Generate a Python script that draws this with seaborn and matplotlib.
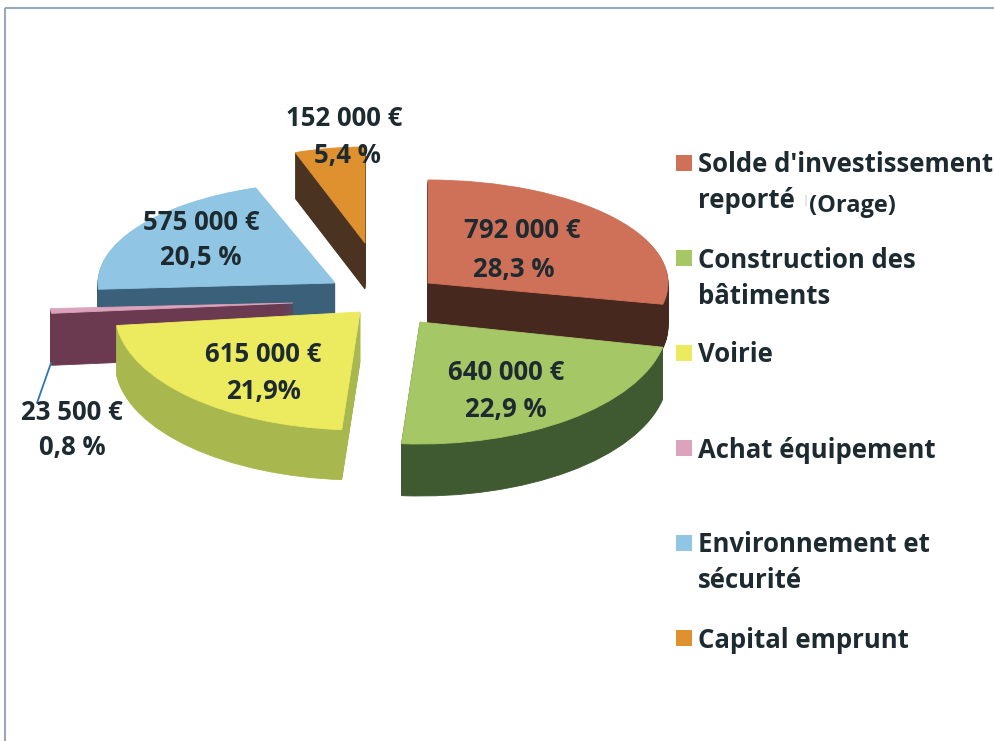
#!/usr/bin/python

import seaborn as sns
import matplotlib.pyplot as plt
from matplotlib.patches import Rectangle
from matplotlib.transforms import Affine2D

# data
names = ["Solde d'investissement", "Construction des", "Voirie",
         "Achat équipement", "Environnement et", "Capital emprunt"]
values = [792000, 640000, 615000, 23500, 575000, 152000]
amount_labels = ["792 000 €", "640 000 €", "615 000 €", "23 500 €", "575 000 €", "152 000 €"]
percent_labels = ["28,3 %", "22,9 %", "21,9%", "0,8 %", "20,5 %", "5,4 %"]
top_colors = ["#CF7058", "#A6C765", "#ECEB60", "#DBA3BC", "#90C6E4", "#E0912F"]
side_colors = ["#47281F", "#3F5A30", "#A9B84E", "#6B3A50", "#3B6079", "#4A3320"]

# each slice sits by itself in the exploded view: apex x, apex y, rx, ry, depth (pixels)
geometry = [(428, 283, 240, 103, 44),
            (420, 322, 248, 122, 52),
            (360, 312, 245, 118, 50),
            (293, 303, 243, 90, 52),
            (335, 283, 237, 101, 45),
            (365, 243, 208, 96, 46)]
draw_order = [5, 4, 3, 2, 0, 1]

text_pos = [(522, 229, 514, 267), (506, 370, 506, 408), (263, 352, 263, 389),
            (72, 411, 72, 446), (201, 221, 201, 256), (344, 116, 347, 153)]

sns.set_theme(style="white")
plt.rcParams['font.family'] = ['Open Sans', 'DejaVu Sans']
text_color = "#1D2A30"
label_size = 18.5

fig = plt.figure(figsize=(9.94, 7.41), dpi=100)
ax = fig.add_axes([0, 0, 1, 1])


def slice_wedge(i, zorder, color, shift):
    cx, cy, rx, ry, depth = geometry[i]
    wedges, _ = ax.pie(values, startangle=90, counterclock=False, radius=1)
    for j, w in enumerate(wedges):
        if j != i:
            w.remove()
    w = wedges[i]
    w.set_transform(Affine2D().scale(rx, -ry).translate(cx, cy + shift) + ax.transData)
    w.set_facecolor(color)
    w.set_edgecolor(color)
    w.set_linewidth(0.6)
    w.set_zorder(zorder)


for n, i in enumerate(draw_order):
    depth = geometry[i][4]
    for d in range(depth, 0, -1):
        slice_wedge(i, n + 1 + (depth - d) / 1000, side_colors[i], d)
    slice_wedge(i, n + 1.9, top_colors[i], 0)

ax.set_aspect('auto')

# leader line of the small slice
ax.plot([51, 37], [363, 403], color="#2E75B6", lw=1.3, zorder=9)

for i, (x1, y1, x2, y2) in enumerate(text_pos):
    ax.text(x1, y1 + 2, amount_labels[i], ha='center', va='center', fontsize=label_size,
            fontweight='bold', color=text_color, zorder=10)
    ax.text(x2, y2 + 2, percent_labels[i], ha='center', va='center', fontsize=label_size,
            fontweight='bold', color=text_color, zorder=10)

# legend column, one entry every 95 px
legend_x = [684] * len(names)
legend_y = [163 + 95 * i for i in range(len(names))]
sns.scatterplot(x=legend_x, y=legend_y, hue=names, palette=top_colors, marker='s', s=125,
                linewidth=0, legend=False, ax=ax, zorder=10)
for i, name in enumerate(names):
    ax.text(698, legend_y[i] + 2, name, va='center', fontsize=label_size, fontweight='bold', color=text_color)
ax.text(698, 201, "reporté", va='center', fontsize=label_size, fontweight='bold', color=text_color)
ax.text(802, 201, "|", va='center', fontsize=8, color="#BBBBBB")
ax.text(809, 206, "(Orage)", va='center', fontsize=17, fontweight='bold', color=text_color)
ax.text(698, 296, "bâtiments", va='center', fontsize=label_size, fontweight='bold', color=text_color)
ax.text(698, 580, "sécurité", va='center', fontsize=label_size, fontweight='bold', color=text_color)

# frame of the scanned chart
ax.add_patch(Rectangle((5, 8), 1100, 900, fill=False, edgecolor="#9AA8B8", lw=1.5, zorder=0))

ax.set_xlim(0, 994)
ax.set_ylim(741, 0)
ax.set_xticks([])
ax.set_yticks([])
ax.set_axis_off()

fig.savefig("out.png", dpi=100, facecolor="white")
